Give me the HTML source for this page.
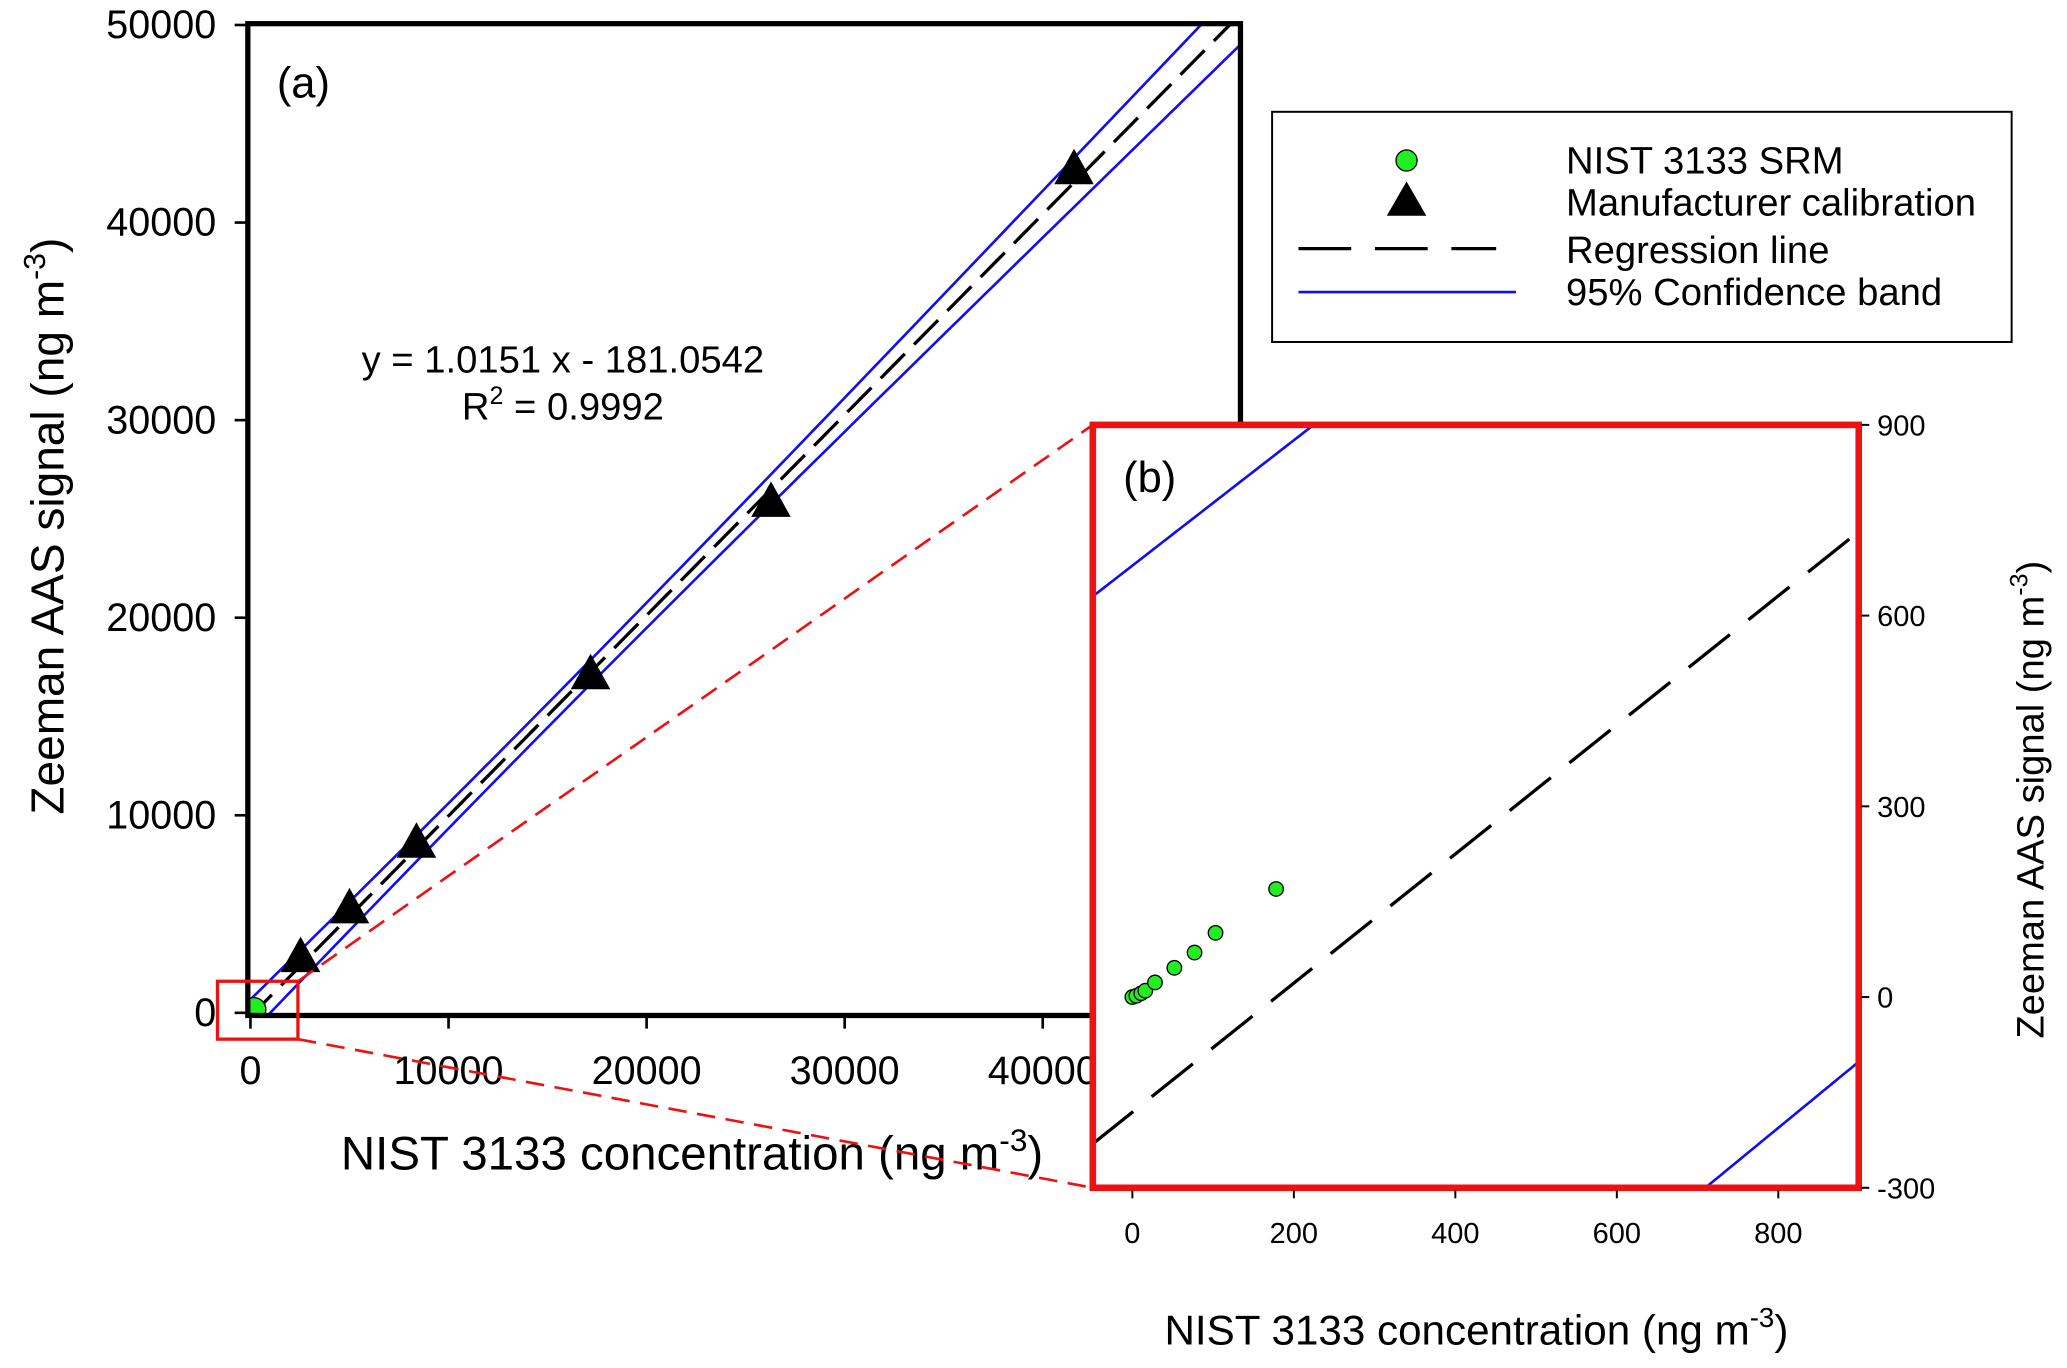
<!DOCTYPE html>
<html><head><meta charset="utf-8"><style>
html,body{margin:0;padding:0;background:#fff;width:2067px;height:1368px;overflow:hidden;position:relative;}
svg{display:block;position:absolute;left:0;top:0;overflow:hidden;font-family:"Liberation Sans",Arial,sans-serif;}
</style></head><body>
<svg id="chart" width="2067" height="1368" viewBox="0 0 1568 1040" preserveAspectRatio="none" xmlns="http://www.w3.org/2000/svg"><defs id="defs"></defs></svg>
<script>
// ---- data ----
const triX = [2530, 5000, 8380, 17170, 26280, 41580];
const triY = [2860, 5330, 8650, 17180, 25900, 42740];
const nistX = [0, 5, 11, 16, 28, 52, 77, 103, 178];
const nistY = [0, 2, 6, 10, 23, 46, 70, 101, 170];
const mainXTicks = [0, 10000, 20000, 30000, 40000];
const mainYTicks = [0, 10000, 20000, 30000, 40000, 50000];
const insetXTicks = [0, 200, 400, 600, 800];
const insetYTicks = [-300, 0, 300, 600, 900];
const regSlope = [1.0151];
const regIntercept = [-181.0542];
const bandParams = [604, 0.04078, 15000]; // h0, k, xm

const NS = "http://www.w3.org/2000/svg";
const svg = document.getElementById('chart');
const defs = document.getElementById('defs');
function el(tag, attrs, parent, text){
  const e = document.createElementNS(NS, tag);
  for (const k in attrs) e.setAttribute(k, attrs[k]);
  if (text !== undefined) e.textContent = text;
  (parent || svg).appendChild(e);
  return e;
}
const reg = x => regSlope[0]*x + regIntercept[0];
const band = x => Math.sqrt(bandParams[0]*bandParams[0] + Math.pow(bandParams[1]*(x-bandParams[2]),2));

const mx = v => 190 + v*0.015025;
const my = v => 770 - v*0.01502;
const mXmin = -133, mXmax = 49970;

const clipM = el('clipPath', {id:'clipMain'}, defs);
el('rect', {x:188, y:18, width:753, height:754}, clipM);

const gMain = el('g', {'clip-path':'url(#clipMain)'});



function lineFn(fn, xs, xe, sx, sy, attrs, parent, name){
  let d = '';
  const n = 200;
  for (let i=0;i<=n;i++){ const x = xs + (xe-xs)*i/n; d += (i?'L':'M') + sx(x).toFixed(2)+','+sy(fn(x)).toFixed(2); }
  const p = el('path', Object.assign({d:d, fill:'none'}, attrs), parent);
  
  
  return p;
}
lineFn(x=>reg(x)+band(x), mXmin, mXmax, mx, my, {stroke:'#1010ee','stroke-width':2}, gMain, 'upper-confidence-band');
lineFn(x=>reg(x)-band(x), mXmin, mXmax, mx, my, {stroke:'#1010ee','stroke-width':2}, gMain, 'lower-confidence-band');
lineFn(reg, mXmin, mXmax, mx, my, {stroke:'#000','stroke-width':2.5,'stroke-dasharray':'26,10'}, gMain, 'regression-line');

triX.forEach((x,i)=>{
  const cx = mx(x), cy = my(triY[i]);
  const t = el('polygon', {points:`${cx},${cy-15} ${cx-15},${cy+12} ${cx+15},${cy+12}`, fill:'#000'}, gMain);
  
  
});
nistX.forEach((x,i)=>{
  const c = el('circle', {cx:mx(x), cy:my(nistY[i]), r:9, fill:'#22ee22', stroke:'#000','stroke-width':1}, gMain);
  
  
});

const fr = el('rect', {x:188, y:18, width:753, height:754, fill:'none', stroke:'#000','stroke-width':4});


mainYTicks.forEach(v=>{
  el('line', {x1:178, x2:188, y1:my(v), y2:my(v), stroke:'#000','stroke-width':2});
  const t = el('text', {x:164, y:my(v)+10, 'text-anchor':'end', 'font-size':30}, svg, String(v));
  
  
});
mainXTicks.forEach(v=>{
  el('line', {x1:mx(v), x2:mx(v), y1:772, y2:782, stroke:'#000','stroke-width':2});
  const t = el('text', {x:mx(v), y:824, 'text-anchor':'middle', 'font-size':30}, svg, String(v));
  
  
});
</script>
<script>
(function(){
const t1 = el('text', {x:0, y:0, 'text-anchor':'middle', 'font-size':35, transform:'translate(48,400) rotate(-90)'}, svg);


t1.innerHTML = 'Zeeman AAS signal (ng m<tspan dy="-14" font-size="23">-3</tspan><tspan dy="14">)</tspan>';
const t2 = el('text', {x:525, y:889, 'text-anchor':'middle', 'font-size':36}, svg);


t2.innerHTML = 'NIST 3133 concentration (ng m<tspan dy="-14" font-size="24">-3</tspan><tspan dy="14">)</tspan>';
const a = el('text', {x:210, y:74, 'font-size':33}, svg, '(a)');


const eq = el('text', {x:427, y:283, 'text-anchor':'middle', 'font-size':29}, svg, 'y = 1.0151 x - 181.0542');


const r2 = el('text', {x:427, y:319, 'text-anchor':'middle', 'font-size':29}, svg);


r2.innerHTML = 'R<tspan dy="-12" font-size="19">2</tspan><tspan dy="12"> = 0.9992</tspan>';

const zb = el('rect', {x:165, y:746, width:61, height:44, fill:'none', stroke:'#ee1111','stroke-width':2.5});


const c1 = el('line', {x1:226, y1:746, x2:829, y2:323, stroke:'#ee1111','stroke-width':2,'stroke-dasharray':'14,8'});


const c2 = el('line', {x1:226, y1:790, x2:829, y2:903, stroke:'#ee1111','stroke-width':2,'stroke-dasharray':'14,8'});



const lg = el('g', {});


el('rect', {x:965, y:85, width:561, height:175, fill:'#fff', stroke:'#000','stroke-width':1.5}, lg);
const e1 = el('circle', {cx:1067, cy:122, r:8, fill:'#22ee22', stroke:'#000','stroke-width':1}, lg);


const e2 = el('polygon', {points:'1067,138 1052,164 1082,164', fill:'#000'}, lg);


const e3 = el('line', {x1:985, x2:1135, y1:189, y2:189, stroke:'#000','stroke-width':2.5,'stroke-dasharray':'40,18'}, lg);


const e4 = el('line', {x1:985, x2:1150, y1:222, y2:222, stroke:'#1010ee','stroke-width':2}, lg);


[['NIST 3133 SRM',132],['Manufacturer calibration',164],['Regression line',200],[' 95% Confidence band',232]].forEach(([s,y])=>{
  const t = el('text', {x:1188, y:y, 'font-size':29, 'xml:space':'preserve'}, lg, s);
  
  
});

const ix = v => 859 + v*0.6125;
const iy = v => 758 - v*0.48333;
const inset = el('g', {});


el('rect', {x:829, y:323, width:581, height:580, fill:'#fff'}, inset);
const clipI = el('clipPath', {id:'clipInset'}, defs);
el('rect', {x:829, y:323, width:581, height:580}, clipI);
const gi = el('g', {'clip-path':'url(#clipInset)'}, inset);
lineFn(x=>reg(x)+band(x), -50, 900, ix, iy, {stroke:'#1010ee','stroke-width':2}, gi, 'inset-upper-band');
lineFn(x=>reg(x)-band(x), -50, 900, ix, iy, {stroke:'#1010ee','stroke-width':2}, gi, 'inset-lower-band');
lineFn(reg, -50, 900, ix, iy, {stroke:'#000','stroke-width':2.5,'stroke-dasharray':'40,18'}, gi, 'inset-regression-line');
nistX.forEach((x,i)=>{
  const c = el('circle', {cx:ix(x), cy:iy(nistY[i]), r:5.5, fill:'#22ee22', stroke:'#000','stroke-width':1}, gi);
  
  
});
const ifr = el('rect', {x:829, y:323, width:581, height:580, fill:'none', stroke:'#ee1111','stroke-width':5}, inset);


const b = el('text', {x:852, y:374, 'font-size':33}, inset, '(b)');


insetYTicks.forEach(v=>{
  el('line', {x1:1412, x2:1418, y1:iy(v), y2:iy(v), stroke:'#000','stroke-width':1.5}, inset);
  const t = el('text', {x:1424, y:iy(v)+8, 'font-size':22}, inset, String(v));
  
  
});
insetXTicks.forEach(v=>{
  el('line', {x1:ix(v), x2:ix(v), y1:905, y2:911, stroke:'#000','stroke-width':1.5}, inset);
  const t = el('text', {x:ix(v), y:945, 'text-anchor':'middle', 'font-size':22}, inset, String(v));
  
  
});
const ixt = el('text', {x:1120, y:1022, 'text-anchor':'middle', 'font-size':32}, inset);


ixt.innerHTML = 'NIST 3133 concentration (ng m<tspan dy="-13" font-size="21">-3</tspan><tspan dy="13">)</tspan>';
const iyt = el('text', {x:0, y:0, 'text-anchor':'middle', 'font-size':29, transform:'translate(1550,608) rotate(-90)'}, inset);


iyt.innerHTML = 'Zeeman AAS signal (ng m<tspan dy="-12" font-size="19">-3</tspan><tspan dy="12">)</tspan>';
})();
</script>
</body></html>
